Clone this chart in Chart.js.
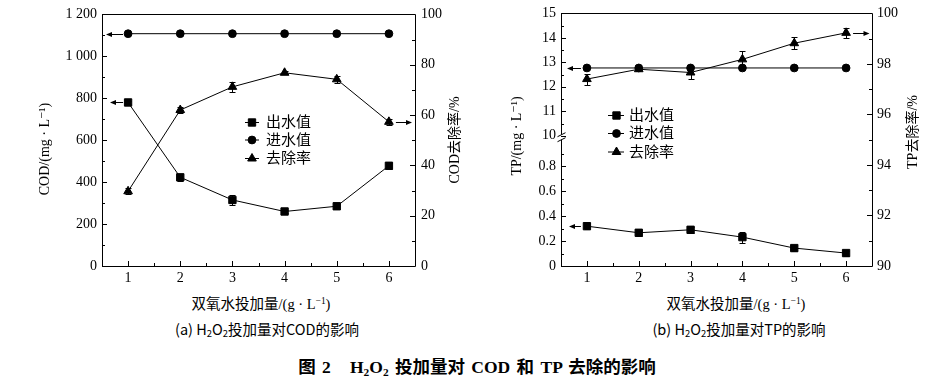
<!DOCTYPE html>
<html>
<head>
<meta charset="utf-8">
<script src="https://cdn.jsdelivr.net/npm/chart.js@4.4.1/dist/chart.umd.min.js"></script>
<style>
  html, body { margin: 0; padding: 0; background: #fff; }
  #page { position: relative; width: 936px; height: 376px; overflow: hidden; }
  canvas { position: absolute; top: 0; }
  .txt { position: absolute; white-space: nowrap; transform: translate(-50%, -50%); color: #000; line-height: 1; }
  .xt { font: 14.5px 'Liberation Serif', 'Noto Sans CJK SC', serif; }
  .cap { font: 14.5px 'Liberation Sans Narrow', 'Noto Sans CJK SC', sans-serif; }
  .fig { font: bold 17.5px 'Liberation Serif', 'Noto Sans CJK SC', serif; word-spacing: 2px; }
  sub { font-size: 65%; vertical-align: -0.3em; line-height: 0; }
  sup { font-size: 65%; vertical-align: 0.5em; line-height: 0; }
</style>
</head>
<body>
<div id="page">
  <canvas id="cod" width="470" height="290" style="left:0"></canvas>
  <canvas id="tp" width="466" height="290" style="left:470px"></canvas>
  <div class="txt xt" style="left:261px;top:302px">双氧水投加量/(g · L<sup>−1</sup>)</div>
  <div class="txt xt" style="left:736px;top:302px">双氧水投加量/(g · L<sup>−1</sup>)</div>
  <div class="txt cap" style="left:267px;top:328px">(a) H<sub>2</sub>O<sub>2</sub>投加量对COD的影响</div>
  <div class="txt cap" style="left:739px;top:328px">(b) H<sub>2</sub>O<sub>2</sub>投加量对TP的影响</div>
  <div class="txt fig" style="left:477px;top:365px">图 2&nbsp;&nbsp;&nbsp;H<sub>2</sub>O<sub>2</sub> 投加量对 COD 和 TP 去除的影响</div>
</div>
<script>
// Données
const doses = [1, 2, 3, 4, 5, 6];

const codInflow = [1108, 1108, 1108, 1108, 1108, 1108];
const codEffluent = [780, 423, 315, 260, 285, 478];
const codEffluentErr = [6, 16, 24, 5, 14, 14];
const codRemoval = [29.7, 62.0, 71.2, 76.8, 74.2, 57.3];
const codRemovalErr = [1.2, 1.3, 2.1, 0.6, 1.5, 1.3];

const tpInflow = [12.77, 12.77, 12.77, 12.77, 12.77, 12.77];
const tpEffluent = [0.32, 0.267, 0.291, 0.232, 0.144, 0.104];
const tpEffluentErr = [0.025, 0.025, 0.025, 0.045, 0.02, 0.02];
const tpRemoval = [97.40, 97.79, 97.66, 98.18, 98.82, 99.23];
const tpRemovalErr = [0.22, 0.05, 0.26, 0.32, 0.23, 0.21];

// Graduations
const codTicks = [0, 200, 400, 600, 800, 1000, 1200];
const codRateTicks = [0, 20, 40, 60, 80, 100];
const tpLowTicks = [0, 0.2, 0.4, 0.6, 0.8];
const tpHighTicks = [10, 11, 12, 13, 14, 15];
const tpRateTicks = [90, 92, 94, 96, 98, 100];

const legendLabels = ['出水值', '进水值', '去除率'];

const FONT = "'Liberation Serif', 'DejaVu Serif', 'Noto Sans CJK SC', serif";
Chart.defaults.font.family = FONT;
Chart.defaults.font.size = 14;
Chart.defaults.color = '#000';

const RADIUS = { rect: 5.2, circle: 3.9, triangle: 5 };

function series(label, values, errors, style, axis) {
    return {
        label: label,
        data: doses.map((x, i) => ({ x: x, y: values[i] })),
        errors: errors,
        yAxisID: axis,
        borderColor: '#000',
        backgroundColor: '#000',
        borderWidth: 1,
        pointStyle: style,
        pointRadius: RADIUS[style],
        pointHoverRadius: RADIUS[style],
        pointBorderWidth: 1,
        tension: 0
    };
}

function fixedTicks(list) {
    return s => { s.ticks = list.map(v => ({ value: v })); };
}

function yScale(position, min, max, list, width, extra) {
    return Object.assign({
        type: 'linear', position: position, min: min, max: max,
        ticks: { autoSkip: false, padding: position === 'left' ? 5 : 6 },
        afterBuildTicks: fixedTicks(list),
        grid: { display: false, drawTicks: false },
        border: { display: false },
        afterFit: s => { s.width = width; }
    }, extra || {});
}

function xScale() {
    return {
        type: 'linear', position: 'bottom', min: 0.5, max: 6.5,
        ticks: { autoSkip: false, padding: 4 },
        afterBuildTicks: fixedTicks(doses),
        grid: { display: false, drawTicks: false },
        border: { display: false },
        afterFit: s => { s.height = 24; }
    };
}

function line(ctx, x0, y0, x1, y1) {
    ctx.beginPath();
    ctx.moveTo(x0, y0);
    ctx.lineTo(x1, y1);
    ctx.stroke();
}

// Cadre, graduations vers l'intérieur, coupure d'axe
function drawTicks(ctx, s, area) {
    const vals = s.ticks.map(t => t.value);
    if (vals.length < 2) return;
    const step = vals[1] - vals[0];
    const minor = vals.map(v => v + step / 2).concat([vals[0] - step / 2])
        .filter(v => v > s.min && v < s.max);
    const mark = (v, len) => {
        const p = Math.round(s.getPixelForValue(v)) + 0.5;
        if (s.position === 'bottom') line(ctx, p, area.bottom, p, area.bottom - len);
        else if (s.position === 'left') line(ctx, s.right, p, s.right + len, p);
        else line(ctx, s.left, p, s.left - len, p);
    };
    vals.forEach(v => mark(v, 5));
    minor.forEach(v => mark(v, 3));
}

const frame = {
    id: 'frame',
    afterDraw(chart) {
        const { ctx, chartArea: a } = chart;
        const L = Math.round(a.left) + 0.5, R = Math.round(a.right) + 0.5;
        const T = Math.round(a.top) + 0.5, B = Math.round(a.bottom) + 0.5;
        ctx.save();
        ctx.strokeStyle = '#000';
        ctx.lineWidth = 1;
        line(ctx, L, T, R, T);
        line(ctx, R, T, R, B);
        line(ctx, L, B, R, B);
        const low = chart.scales.yLow, up = chart.scales.yTop;
        if (low && up) {
            const yb = (up.bottom + low.top) / 2;
            line(ctx, L, T, L, yb - 2.5);
            line(ctx, L, yb + 2.5, L, B);
            line(ctx, L - 4, yb - 0.5, L + 4, yb - 4.5);
            line(ctx, L - 4, yb + 4.5, L + 4, yb + 0.5);
        } else {
            line(ctx, L, T, L, B);
        }
        Object.values(chart.scales).forEach(s => drawTicks(ctx, s, a));
        ctx.restore();
    }
};

const errorBars = {
    id: 'errorBars',
    afterDatasetsDraw(chart) {
        const ctx = chart.ctx;
        const xs = chart.scales.x;
        ctx.save();
        ctx.strokeStyle = '#000';
        ctx.lineWidth = 1;
        chart.data.datasets.forEach(ds => {
            if (!ds.errors) return;
            const ys = chart.scales[ds.yAxisID];
            ds.data.forEach((p, i) => {
                const e = ds.errors[i];
                if (!e) return;
                const x = Math.round(xs.getPixelForValue(p.x)) + 0.5;
                const y0 = Math.round(ys.getPixelForValue(p.y - e)) + 0.5;
                const y1 = Math.round(ys.getPixelForValue(p.y + e)) + 0.5;
                line(ctx, x, y0, x, y1);
                line(ctx, x - 3, y0, x + 3, y0);
                line(ctx, x - 3, y1, x + 3, y1);
            });
        });
        ctx.restore();
    }
};

// Flèches indiquant l'axe de chaque série
const arrows = {
    id: 'arrows',
    afterDatasetsDraw(chart, args, opts) {
        const { ctx, chartArea: a } = chart;
        const xs = chart.scales.x;
        ctx.save();
        ctx.strokeStyle = '#000';
        ctx.fillStyle = '#000';
        ctx.lineWidth = 1;
        (opts.items || []).forEach(it => {
            const ds = chart.data.datasets[it.dataset];
            const ys = chart.scales[ds.yAxisID];
            const p = it.side === 'left' ? ds.data[0] : ds.data[ds.data.length - 1];
            const y = Math.round(ys.getPixelForValue(p.y)) + 0.5;
            const px = xs.getPixelForValue(p.x);
            const dir = it.side === 'left' ? -1 : 1;
            const tail = px + dir * it.gap;
            const tip = (it.side === 'left' ? a.left : a.right) - dir * it.tip;
            line(ctx, tail, y, tip - dir * 4, y);
            ctx.beginPath();
            ctx.moveTo(tip, y);
            ctx.lineTo(tip - dir * 6, y - 2.5);
            ctx.lineTo(tip - dir * 6, y + 2.5);
            ctx.closePath();
            ctx.fill();
        });
        ctx.restore();
    }
};

const innerLegend = {
    id: 'innerLegend',
    afterDraw(chart, args, o) {
        const ctx = chart.ctx;
        ctx.save();
        ctx.strokeStyle = '#000';
        ctx.fillStyle = '#000';
        ctx.lineWidth = 1;
        ctx.font = '15px ' + FONT;
        ctx.textBaseline = 'middle';
        chart.data.datasets.forEach((ds, i) => {
            const y = o.rows[i] + 0.5;
            line(ctx, o.x0, y, o.x1, y);
            Chart.helpers.drawPoint(ctx, { pointStyle: ds.pointStyle, radius: ds.pointRadius, rotation: 0, borderWidth: 1 }, o.xm, y);
            ctx.fillText(ds.label, o.tx, y + 1);
        });
        ctx.restore();
    }
};

const vTitles = {
    id: 'vTitles',
    afterDraw(chart, args, opts) {
        const ctx = chart.ctx;
        ctx.save();
        ctx.fillStyle = '#000';
        ctx.font = '14px ' + FONT;
        ctx.textAlign = 'center';
        ctx.textBaseline = 'middle';
        (opts.items || []).forEach(t => {
            ctx.save();
            ctx.translate(t.x, t.y);
            ctx.rotate(-Math.PI / 2);
            ctx.fillText(t.text, 0, 0);
            ctx.restore();
        });
        ctx.restore();
    }
};

const common = {
    responsive: false,
    animation: false,
    events: []
};

new Chart(document.getElementById('cod'), {
    type: 'line',
    data: {
        datasets: [
            series(legendLabels[0], codEffluent, codEffluentErr, 'rect', 'y'),
            series(legendLabels[1], codInflow, null, 'circle', 'y'),
            series(legendLabels[2], codRemoval, codRemovalErr, 'triangle', 'y2')
        ]
    },
    options: Object.assign({}, common, {
        layout: { padding: { top: 13, left: 0, right: 0, bottom: 0 } },
        scales: {
            x: xScale(),
            y: yScale('left', 0, 1200, codTicks, 102, {
                ticks: {
                    autoSkip: false, padding: 5,
                    callback: v => v >= 1000 ? Math.floor(v / 1000) + ' ' + String(v % 1000).padStart(3, '0') : String(v)
                }
            }),
            y2: yScale('right', 0, 100, codRateTicks, 55)
        },
        plugins: {
            legend: { display: false },
            tooltip: { enabled: false },
            arrows: { items: [
                { dataset: 1, side: 'left', gap: 5, tip: 4 },
                { dataset: 0, side: 'left', gap: 5, tip: 8 },
                { dataset: 2, side: 'right', gap: 7, tip: 3 }
            ] },
            innerLegend: { x0: 245, x1: 259, xm: 252, tx: 266, rows: [122, 139.5, 158] },
            vTitles: { items: [
                { text: 'COD/(mg · L⁻¹)', x: 45, y: 149 },
                { text: 'COD去除率/%', x: 455, y: 140 }
            ] }
        }
    }),
    plugins: [frame, errorBars, arrows, innerLegend, vTitles]
});

new Chart(document.getElementById('tp'), {
    type: 'line',
    data: {
        datasets: [
            series(legendLabels[0], tpEffluent, tpEffluentErr, 'rect', 'yLow'),
            series(legendLabels[1], tpInflow, null, 'circle', 'yTop'),
            series(legendLabels[2], tpRemoval, tpRemovalErr, 'triangle', 'yR')
        ]
    },
    options: Object.assign({}, common, {
        layout: { padding: { top: 12, left: 0, right: 0, bottom: 0 } },
        scales: {
            x: xScale(),
            yLow: yScale('left', 0, 1.035, tpLowTicks, 91, { stack: 'tp', stackWeight: 129.2 }),
            yTop: yScale('left', 9.94, 15, tpHighTicks, 91, { stack: 'tp', stackWeight: 124.2 }),
            yR: yScale('right', 90, 100, tpRateTicks, 64, { ticks: { autoSkip: false, padding: 5 } })
        },
        plugins: {
            legend: { display: false },
            tooltip: { enabled: false },
            arrows: { items: [
                { dataset: 1, side: 'left', gap: 6, tip: 6 },
                { dataset: 0, side: 'left', gap: 6, tip: 8 },
                { dataset: 2, side: 'right', gap: 7, tip: 2.5 }
            ] },
            innerLegend: { x0: 138, x1: 154, xm: 146.5, tx: 159, rows: [115, 133, 151.5] },
            vTitles: { items: [
                { text: 'TP/(mg · L⁻¹)', x: 47, y: 136 },
                { text: 'TP去除率/%', x: 443, y: 132 }
            ] }
        }
    }),
    plugins: [frame, errorBars, arrows, innerLegend, vTitles]
});
</script>
</body>
</html>
